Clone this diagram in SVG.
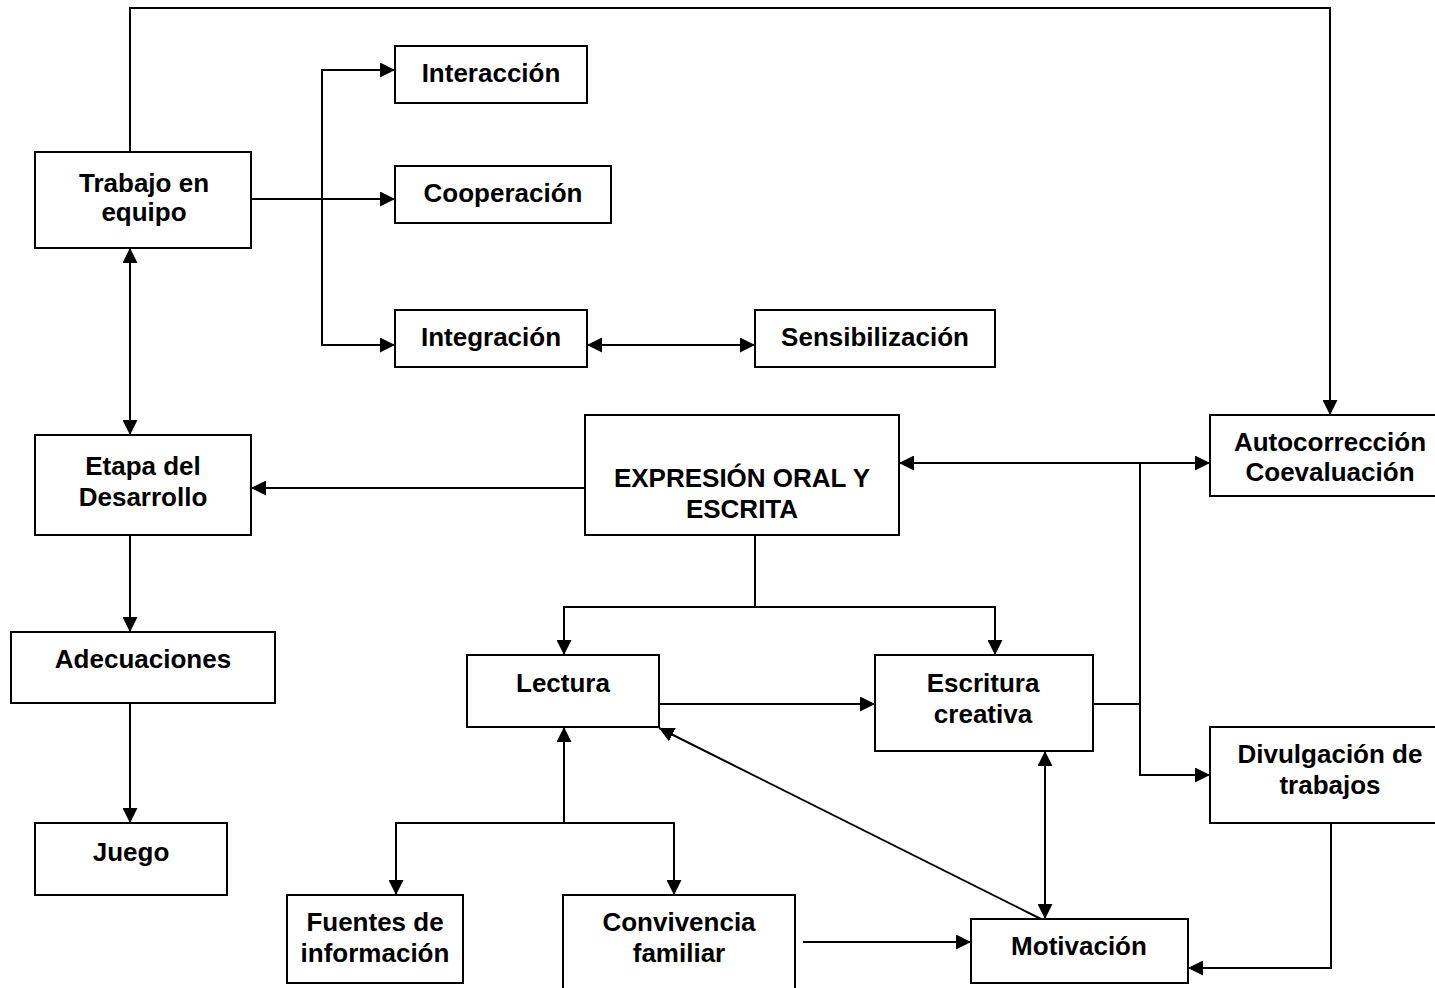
<svg xmlns="http://www.w3.org/2000/svg" width="1435" height="988" viewBox="0 0 1435 988">
<style>
rect{fill:#fff;stroke:#000;stroke-width:2}
text{font-family:"Liberation Sans",Arial,sans-serif;font-weight:bold;font-size:26px;text-anchor:middle;fill:#000}
.c path,.c line,.c polyline{fill:none;stroke:#000;stroke-width:2}
</style>
<defs>
<marker id="a" markerUnits="userSpaceOnUse" markerWidth="15" markerHeight="15" refX="15" refY="7.5" orient="auto-start-reverse" viewBox="0 0 15 15"><path d="M0,0 L15,7.5 L0,15 z" fill="#000"/></marker>
</defs>
<rect width="1435" height="988" style="fill:#fff;stroke:none"/>
<g class="c" id="connectors">
<polyline points="130,152 130,8 1330,8 1330,415" marker-end="url(#a)"/>
<line x1="251" y1="199" x2="395" y2="199" marker-end="url(#a)"/>
<polyline points="395,70 322,70 322,345 395,345" marker-start="url(#a)" marker-end="url(#a)"/>
<line x1="587" y1="345" x2="755" y2="345" marker-start="url(#a)" marker-end="url(#a)"/>
<line x1="130" y1="248" x2="130" y2="435" marker-start="url(#a)" marker-end="url(#a)"/>
<line x1="585" y1="488" x2="251" y2="488" marker-end="url(#a)"/>
<line x1="130" y1="535" x2="130" y2="632" marker-end="url(#a)"/>
<line x1="130" y1="703" x2="130" y2="823" marker-end="url(#a)"/>
<line x1="899" y1="463" x2="1210" y2="463" marker-start="url(#a)" marker-end="url(#a)"/>
<polyline points="1140,463 1140,775 1210,775" marker-end="url(#a)"/>
<line x1="1093" y1="704" x2="1140" y2="704"/>
<line x1="755" y1="535" x2="755" y2="607"/>
<polyline points="564,655 564,607 995,607 995,655" marker-start="url(#a)" marker-end="url(#a)"/>
<line x1="659" y1="704" x2="875" y2="704" marker-end="url(#a)"/>
<line x1="564" y1="823" x2="564" y2="727" marker-end="url(#a)"/>
<polyline points="396,895 396,823 674,823 674,895" marker-start="url(#a)" marker-end="url(#a)"/>
<line x1="803" y1="942" x2="971" y2="942" marker-end="url(#a)"/>
<line x1="1045" y1="751" x2="1045" y2="919" marker-start="url(#a)" marker-end="url(#a)"/>
<line x1="1041" y1="919" x2="659" y2="728" marker-end="url(#a)"/>
<polyline points="1331,823 1331,968 1188,968" marker-end="url(#a)"/>
</g>
<g id="trabajo"><rect x="35" y="152" width="216" height="96"/><text x="144" y="192">Trabajo en</text><text x="144" y="221">equipo</text></g>
<g id="interaccion"><rect x="395" y="46" width="192" height="57"/><text x="491" y="82">Interacción</text></g>
<g id="cooperacion"><rect x="395" y="166" width="216" height="57"/><text x="503" y="202">Cooperación</text></g>
<g id="integracion"><rect x="395" y="310" width="192" height="57"/><text x="491" y="346">Integración</text></g>
<g id="sensibilizacion"><rect x="755" y="310" width="240" height="57"/><text x="875" y="346">Sensibilización</text></g>
<g id="etapa"><rect x="35" y="435" width="216" height="100"/><text x="143" y="475">Etapa del</text><text x="143" y="506">Desarrollo</text></g>
<g id="expresion"><rect x="585" y="415" width="314" height="120"/><text x="742" y="487">EXPRESIÓN ORAL Y</text><text x="742" y="518">ESCRITA</text></g>
<g id="autocorreccion"><rect x="1210" y="415" width="240" height="81"/><text x="1330" y="451">Autocorrección</text><text x="1330" y="481">Coevaluación</text></g>
<g id="adecuaciones"><rect x="11" y="632" width="264" height="71"/><text x="143" y="668">Adecuaciones</text></g>
<g id="juego"><rect x="35" y="823" width="192" height="72"/><text x="131" y="861">Juego</text></g>
<g id="lectura"><rect x="467" y="655" width="192" height="72"/><text x="563" y="692">Lectura</text></g>
<g id="escritura"><rect x="875" y="655" width="218" height="96"/><text x="983" y="692">Escritura</text><text x="983" y="723">creativa</text></g>
<g id="divulgacion"><rect x="1210" y="727" width="240" height="96"/><text x="1330" y="763">Divulgación de</text><text x="1330" y="794">trabajos</text></g>
<g id="fuentes"><rect x="287" y="895" width="176" height="88"/><text x="375" y="931">Fuentes de</text><text x="375" y="962">información</text></g>
<g id="convivencia"><rect x="563" y="895" width="232" height="100"/><text x="679" y="931">Convivencia</text><text x="679" y="962">familiar</text></g>
<g id="motivacion"><rect x="971" y="919" width="217" height="64"/><text x="1079" y="955">Motivación</text></g>
</svg>
